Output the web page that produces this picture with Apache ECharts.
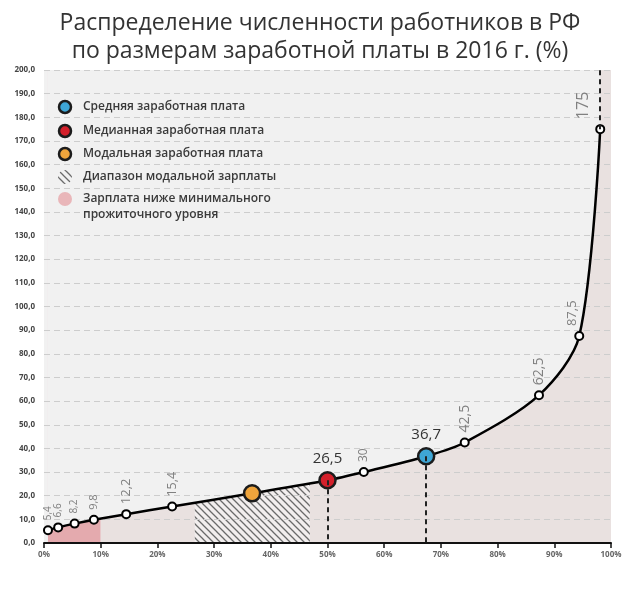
<!DOCTYPE html>
<html><head><meta charset="utf-8">
<script src="https://cdn.jsdelivr.net/npm/echarts@6/dist/echarts.min.js"></script>
<style>html,body{margin:0;padding:0;background:#fff}#c{width:640px;height:594px}</style>
</head><body><div id="c"></div>
<script>
// ---- data ----
const percentile = [0.7, 2.5, 5.4, 8.8, 14.5, 22.6, 36.7, 50, 56.4, 67.4, 74.2, 87.3, 94.4, 98.1];
const wage       = [5.4, 6.6, 8.2, 9.8, 12.2, 15.4, 21.0, 26.5, 30, 36.7, 42.5, 62.5, 87.5, 175];
const pointLabels = ['5,4','6,6','8,2','9,8','12,2','15,4','','26,5','30','36,7','42,5','62,5','87,5','175'];
const modalIndex = 6, medianIndex = 7, meanIndex = 9;
const subsistenceRange = [0, 10];
const modalRange = [26.6, 46.9];
const yMax = 200;
const legendNames = ['Средняя заработная плата','Медианная заработная плата','Модальная заработная плата','Диапазон модальной зарплаты','Зарплата ниже минимального\nпрожиточного уровня'];

// ---- styles ----
const labelSizes = [10,10,10,11,13,12.5,0,15,12,15,14,14,13,16];
const labelShift = [0,0,0,0,0,0,0,0,0,0,0,0,-7,-17];
const C_BG = '#f1f1f1', C_FILL = '#e9e1e0', C_PINK = '#e4aaae';
const C_BLUE = '#3ea6d6', C_RED = '#d4202b', C_ORANGE = '#eea43c', C_EDGE = '#1c1c1c';

function hatch(bg){
  const c = document.createElement('canvas'); c.width = 7; c.height = 7;
  const g = c.getContext('2d');
  g.fillStyle = bg; g.fillRect(0,0,7,7);
  g.strokeStyle = '#6a6a6a'; g.lineWidth = 1.3;
  g.beginPath(); g.moveTo(-1,-1); g.lineTo(8,8); g.moveTo(-1,6); g.lineTo(1,8); g.moveTo(6,-1); g.lineTo(8,1); g.stroke();
  return c;
}
const hatchImg = hatch('#f2eeee');

const fmt = v => v.toFixed(1).replace('.', ',');

const pts = percentile.map((x,i) => {
  const item = {value:[x, wage[i]]};
  const special = i===modalIndex || i===medianIndex || i===meanIndex;
  if (special){
    const col = i===modalIndex ? C_ORANGE : (i===medianIndex ? C_RED : C_BLUE);
    item.symbolSize = 16;
    item.itemStyle = {color: col, borderColor: C_EDGE, borderWidth: 2.5};
  }
  if (pointLabels[i]){
    if (i===medianIndex || i===meanIndex){
      item.label = {show:true, position:'top', distance:5, formatter: pointLabels[i], fontSize: labelSizes[i], fontWeight:500, color:'#333', fontFamily:'Open Sans'};
    } else {
      // offset is in the rotated frame: second component moves the label sideways on screen
      item.label = {show:true, position:'top', distance:5, rotate:90, align:'left', verticalAlign:'middle', offset:[0, labelShift[i]], formatter: pointLabels[i], fontSize: labelSizes[i], color:'#808080', fontFamily:'Open Sans'};
    }
  } else item.label = {show:false};
  return item;
});
const curve = percentile.map((x,i)=>[x, wage[i]]);
const SMOOTH = 0.3;

const legendGraphics = [];
const rowsY = [107,131,154,177,199];
const iconFill = [C_BLUE, C_RED, C_ORANGE, null, '#e9b6b9'];
rowsY.forEach((y,i)=>{
  if (i<3) legendGraphics.push({type:'circle', shape:{cx:65, cy:y, r:6}, style:{fill:iconFill[i], stroke:C_EDGE, lineWidth:2.5}, z:100});
  else if (i===3) legendGraphics.push({type:'circle', shape:{cx:65, cy:y, r:7}, style:{fill:{image:hatch('#f1f1f1'), repeat:'repeat'}}, z:100});
  else legendGraphics.push({type:'circle', shape:{cx:65, cy:y, r:7}, style:{fill:iconFill[i]}, z:100});
  legendGraphics.push({type:'text', left:83, top:y-8, style:{text:legendNames[i], fill:'#3a3a3a', font:'600 12px "Open Sans"', lineHeight:16}, z:100});
});

const chart = echarts.init(document.getElementById('c'));
chart.setOption({
  animation:false,
  title:{text:'Распределение численности работников в РФ\nпо размерам заработной платы в 2016 г. (%)', left:'center', top:4,
    textStyle:{fontSize:23, lineHeight:28, fontWeight:'normal', color:'#333', fontFamily:'Open Sans'}},
  grid:{left:44, right:29, top:70, bottom:51, show:true, backgroundColor:C_BG, borderWidth:0, z:0},
  xAxis:{type:'value', min:0, max:100, interval:10, z:3,
    axisLine:{show:true, lineStyle:{color:'#111', width:2}},
    axisTick:{show:true, length:5, lineStyle:{color:'#111', width:1.5}},
    axisLabel:{formatter:'{value}%', fontSize:8, color:'#666', fontWeight:'bold', margin:8, fontFamily:'Open Sans'},
    splitLine:{show:false}},
  yAxis:{type:'value', min:0, max:yMax, interval:10, z:3,
    axisLine:{show:false}, axisTick:{show:false},
    axisLabel:{formatter: fmt, fontSize:8, color:'#444', fontWeight:'bold', margin:9, fontFamily:'Open Sans'},
    splitLine:{show:true, lineStyle:{color:'#cdcdcd', width:1, type:[6,4]}}},
  graphic: legendGraphics,
  series:[
    {type:'line', data:[], z:1, silent:true,
      markArea:{silent:true, label:{show:false}, data:[
        [{xAxis:percentile[0], yAxis:0, itemStyle:{color:C_PINK}}, {xAxis:subsistenceRange[1], yAxis:yMax}],
        [{xAxis:subsistenceRange[1], yAxis:0, itemStyle:{color:C_FILL}}, {xAxis:modalRange[0], yAxis:yMax}],
        [{xAxis:modalRange[0], yAxis:0, itemStyle:{color:{image:hatchImg, repeat:'repeat'}}}, {xAxis:modalRange[1], yAxis:yMax}],
        [{xAxis:modalRange[1], yAxis:0, itemStyle:{color:C_FILL}}, {xAxis:100, yAxis:yMax}]
      ]}},
    {type:'line', data:curve, z:2, smooth:SMOOTH, symbol:'none', silent:true,
      lineStyle:{width:0}, areaStyle:{origin:'end', color:C_BG, opacity:1}},
    {type:'line', data:pts, z:4, smooth:SMOOTH, symbol:'circle', symbolSize:8, showAllSymbol:true,
      lineStyle:{color:'#000', width:2.5},
      itemStyle:{color:'#fff', borderColor:'#000', borderWidth:2},
      markLine:{silent:true, symbol:'none', label:{show:false}, lineStyle:{color:'#222', width:2, type:[5,4]}, data:[
        [{coord:[percentile[medianIndex], wage[medianIndex]]},{coord:[percentile[medianIndex], 0]}],
        [{coord:[percentile[meanIndex], wage[meanIndex]]},{coord:[percentile[meanIndex], 0]}],
        [{coord:[percentile[percentile.length-1], wage[wage.length-1]]},{coord:[percentile[percentile.length-1], yMax]}]
      ]}}
  ]
});
</script></body></html>
